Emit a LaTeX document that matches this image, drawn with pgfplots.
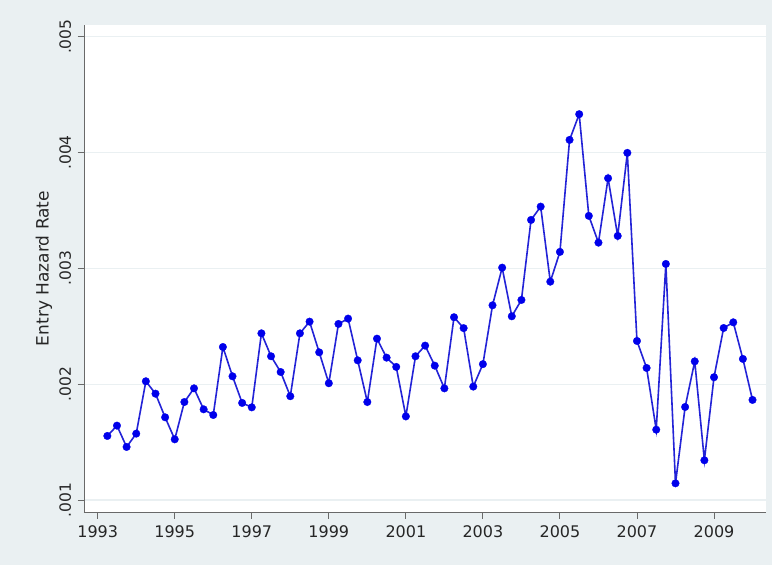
\documentclass[border=0pt]{standalone}
\usepackage{fontspec}
\setmainfont{DejaVu Sans}
\usepackage{pgfplots}
\pgfplotsset{compat=1.18}
\definecolor{bgcol}{RGB}{234,240,242}
\definecolor{gridcol}{RGB}{234,240,242}
\definecolor{axcol}{RGB}{105,105,105}
\definecolor{linecol}{RGB}{35,35,215}
\definecolor{markcol}{RGB}{0,0,235}
\begin{document}
\begin{tikzpicture}[x=1pt,y=1pt]
\fill[bgcol] (-84,-53) rectangle (688,512);
\begin{axis}[
  at={(0,0)}, anchor=south west,
  scale only axis, width=681.7pt, height=487pt,
  xmin=1992.644, xmax=2010.342,
  ymin=0.0008964, ymax=0.005101,
  axis x line*=bottom, axis y line*=left,
  axis line style={draw=axcol, line width=0.9pt, -},
  axis background/.style={fill=white},
  tick align=outside,
  major tick length=6.5pt,
  tick style={draw=axcol, line width=0.9pt},
  xtick={1993,1995,1997,1999,2001,2003,2005,2007,2009},
  xticklabels={1993,1995,1997,1999,2001,2003,2005,2007,2009},
  ytick={0.001,0.002,0.003,0.004,0.005},
  yticklabels={.001,.002,.003,.004,.005},
  scaled y ticks=false,
  ymajorgrids,
  major grid style={draw=gridcol, line width=1.2pt},
  xticklabel shift=4pt,
  yticklabel shift=3pt,
  xticklabel style={font=\fontsize{16}{19}\selectfont, text=black!85},
  yticklabel style={font=\fontsize{15.5}{18}\selectfont, text=black!85, rotate=90, anchor=south},
  ylabel={Entry Hazard Rate},
  ylabel style={font=\fontsize{17}{20}\selectfont, text=black!85, at={(axis description cs:-0.0587,0.5)}, anchor=center, rotate=0},
  clip=false,
]
\addplot[color=linecol, line width=1.6pt, mark=*, mark size=3.8pt, mark options={fill=markcol, draw=markcol, line width=0.3pt}] coordinates {
(1993.25,0.001553)
(1993.5,0.001642)
(1993.75,0.001458)
(1994.0,0.001573)
(1994.25,0.002025)
(1994.5,0.001918)
(1994.75,0.001714)
(1995.0,0.001524)
(1995.25,0.001846)
(1995.5,0.001964)
(1995.75,0.001783)
(1996.0,0.001734)
(1996.25,0.002321)
(1996.5,0.002068)
(1996.75,0.001838)
(1997.0,0.001800)
(1997.25,0.002439)
(1997.5,0.002241)
(1997.75,0.002105)
(1998.0,0.001896)
(1998.25,0.002439)
(1998.5,0.002540)
(1998.75,0.002275)
(1999.0,0.002008)
(1999.25,0.002520)
(1999.5,0.002566)
(1999.75,0.002206)
(2000.0,0.001846)
(2000.25,0.002393)
(2000.5,0.002229)
(2000.75,0.002149)
(2001.0,0.001722)
(2001.25,0.002241)
(2001.5,0.002333)
(2001.75,0.002160)
(2002.0,0.001964)
(2002.25,0.002578)
(2002.5,0.002484)
(2002.75,0.001979)
(2003.0,0.002173)
(2003.25,0.002681)
(2003.5,0.003006)
(2003.75,0.002586)
(2004.0,0.002727)
(2004.25,0.003418)
(2004.5,0.003533)
(2004.75,0.002885)
(2005.0,0.003142)
(2005.25,0.004109)
(2005.5,0.004331)
(2005.75,0.003453)
(2006.0,0.003222)
(2006.25,0.003778)
(2006.5,0.003280)
(2006.75,0.003997)
(2007.0,0.002373)
(2007.25,0.002140)
(2007.5,0.001607)
(2007.75,0.003038)
(2008.0,0.001144)
(2008.25,0.001803)
(2008.5,0.002197)
(2008.75,0.001343)
(2009.0,0.002060)
(2009.25,0.002485)
(2009.5,0.002534)
(2009.75,0.002218)
(2010.0,0.001864)
};
\end{axis}
\pgfresetboundingbox
\path (-84,-53) rectangle (688,512);
\end{tikzpicture}
\end{document}
